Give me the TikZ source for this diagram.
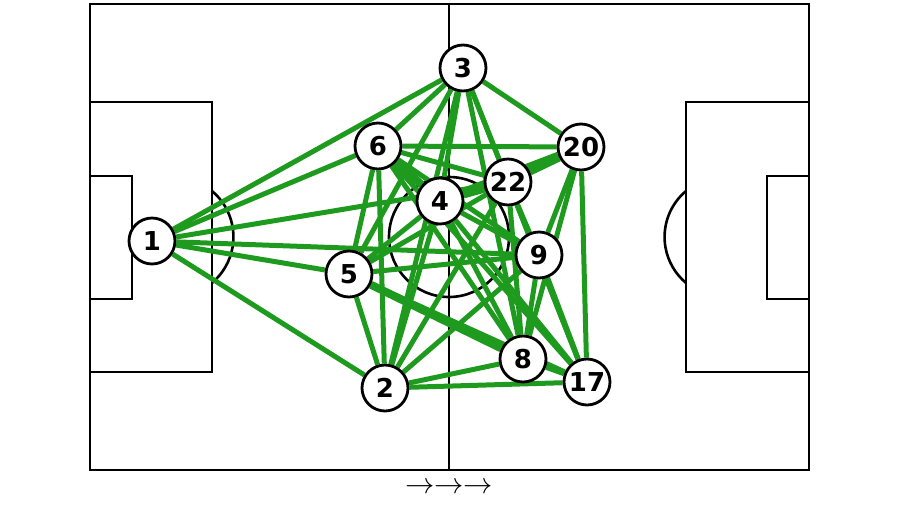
\documentclass[tikz,border=0pt]{standalone}
\usepackage{fontspec}
\newfontfamily\numfont{DejaVu Sans}
\usetikzlibrary{backgrounds}
\definecolor{passgreen}{RGB}{30,155,30}
\tikzset{
  player/.style={circle,draw=black,line width=2.8pt,fill=white,minimum size=46pt,inner sep=0pt,
    font=\numfont\bfseries\fontsize{26}{26}\selectfont},
  pass/.style={draw=passgreen,line width=5pt},
  heavy/.style={draw=passgreen,line width=8pt},
  pitchline/.style={draw=black,line width=2.6pt},
}
\begin{document}
\begin{tikzpicture}[x=1pt,y=-1pt]
\useasboundingbox (0,0) rectangle (900,507);
% players
\node[player] (p1)  at (152,241) {1};
\node[player] (p3)  at (463,68)  {3};
\node[player] (p6)  at (378,146) {6};
\node[player] (p20) at (581,147) {20};
\node[player] (p22) at (508,182) {22};
\node[player] (p4)  at (440,201) {4};
\node[player] (p9)  at (539,255) {9};
\node[player] (p5)  at (349,274) {5};
\node[player] (p8)  at (523,359) {8};
\node[player] (p2)  at (385,388) {2};
\node[player] (p17) at (587,382) {17};
\node (dir) at (449,488) [scale=2.93,inner sep=0pt] {$\rightarrow\rightarrow\rightarrow$};
\begin{pgfonlayer}{background}
% pitch
\draw[pitchline] (90,4) rectangle (809,470);
\draw[pitchline] (449,4) -- (449,470);
\draw[pitchline] (449,237) circle[radius=60];
\draw[pitchline] (90,102) rectangle (212,372);
\draw[pitchline] (90,176) rectangle (132,299);
\draw[pitchline] (686,102) rectangle (809,372);
\draw[pitchline] (767,176) rectangle (809,299);
\draw[pitchline] (212,191) arc[start angle=-50,end angle=50,radius=60];
\draw[pitchline] (686,191) arc[start angle=-130,end angle=-230,radius=60];
% passes
\draw[pass] (p1) -- (p3);
\draw[pass] (p1) -- (p6);
\draw[pass] (p1) -- (p22);
\draw[pass] (p1) -- (p9);
\draw[pass] (p1) -- (p5);
\draw[pass] (p1) -- (p2);
\draw[pass] (p3) -- (p6);
\draw[pass] (p3) -- (p5);
\draw[pass] (p3) -- (p4);
\draw[pass] (p3) -- (p2);
\draw[pass] (p3) -- (p8);
\draw[pass] (p3) -- (p22);
\draw[pass] (p3) -- (p17);
\draw[pass] (p3) -- (p20);
\draw[pass] (p6) -- (p20);
\draw[pass] (p6) -- (p22);
\draw[heavy] (p6) -- (p4);
\draw[pass] (p6) -- (p9);
\draw[pass] (p6) -- (p8);
\draw[pass] (p6) -- (p17);
\draw[pass] (p6) -- (p5);
\draw[pass] (p6) -- (p2);
\draw[heavy] (p20) -- (p22);
\draw[heavy] (p20) -- (p4);
\draw[pass] (p20) -- (p9);
\draw[pass] (p20) -- (p8);
\draw[pass] (p20) -- (p17);
\draw[heavy] (p22) -- (p4);
\draw[pass] (p22) -- (p5);
\draw[pass] (p22) -- (p2);
\draw[pass] (p22) -- (p8);
\draw[pass] (p22) -- (p9);
\draw[pass] (p22) -- (p17);
\draw[pass] (p4) -- (p5);
\draw[pass] (p4) -- (p9);
\draw[pass] (p4) -- (p8);
\draw[pass] (p4) -- (p17);
\draw[pass] (p4) -- (p2);
\draw[pass] (p9) -- (p5);
\draw[pass] (p9) -- (p2);
\draw[pass] (p9) -- (p8);
\draw[pass] (p9) -- (p17);
\draw[heavy] (p5) -- (p8);
\draw[pass] (p5) -- (p17);
\draw[pass] (p5) -- (p2);
\draw[pass] (p8) -- (p2);
\draw[pass] (p8) -- (p17);
\draw[pass] (p2) -- (p17);
\end{pgfonlayer}
\end{tikzpicture}
\end{document}
